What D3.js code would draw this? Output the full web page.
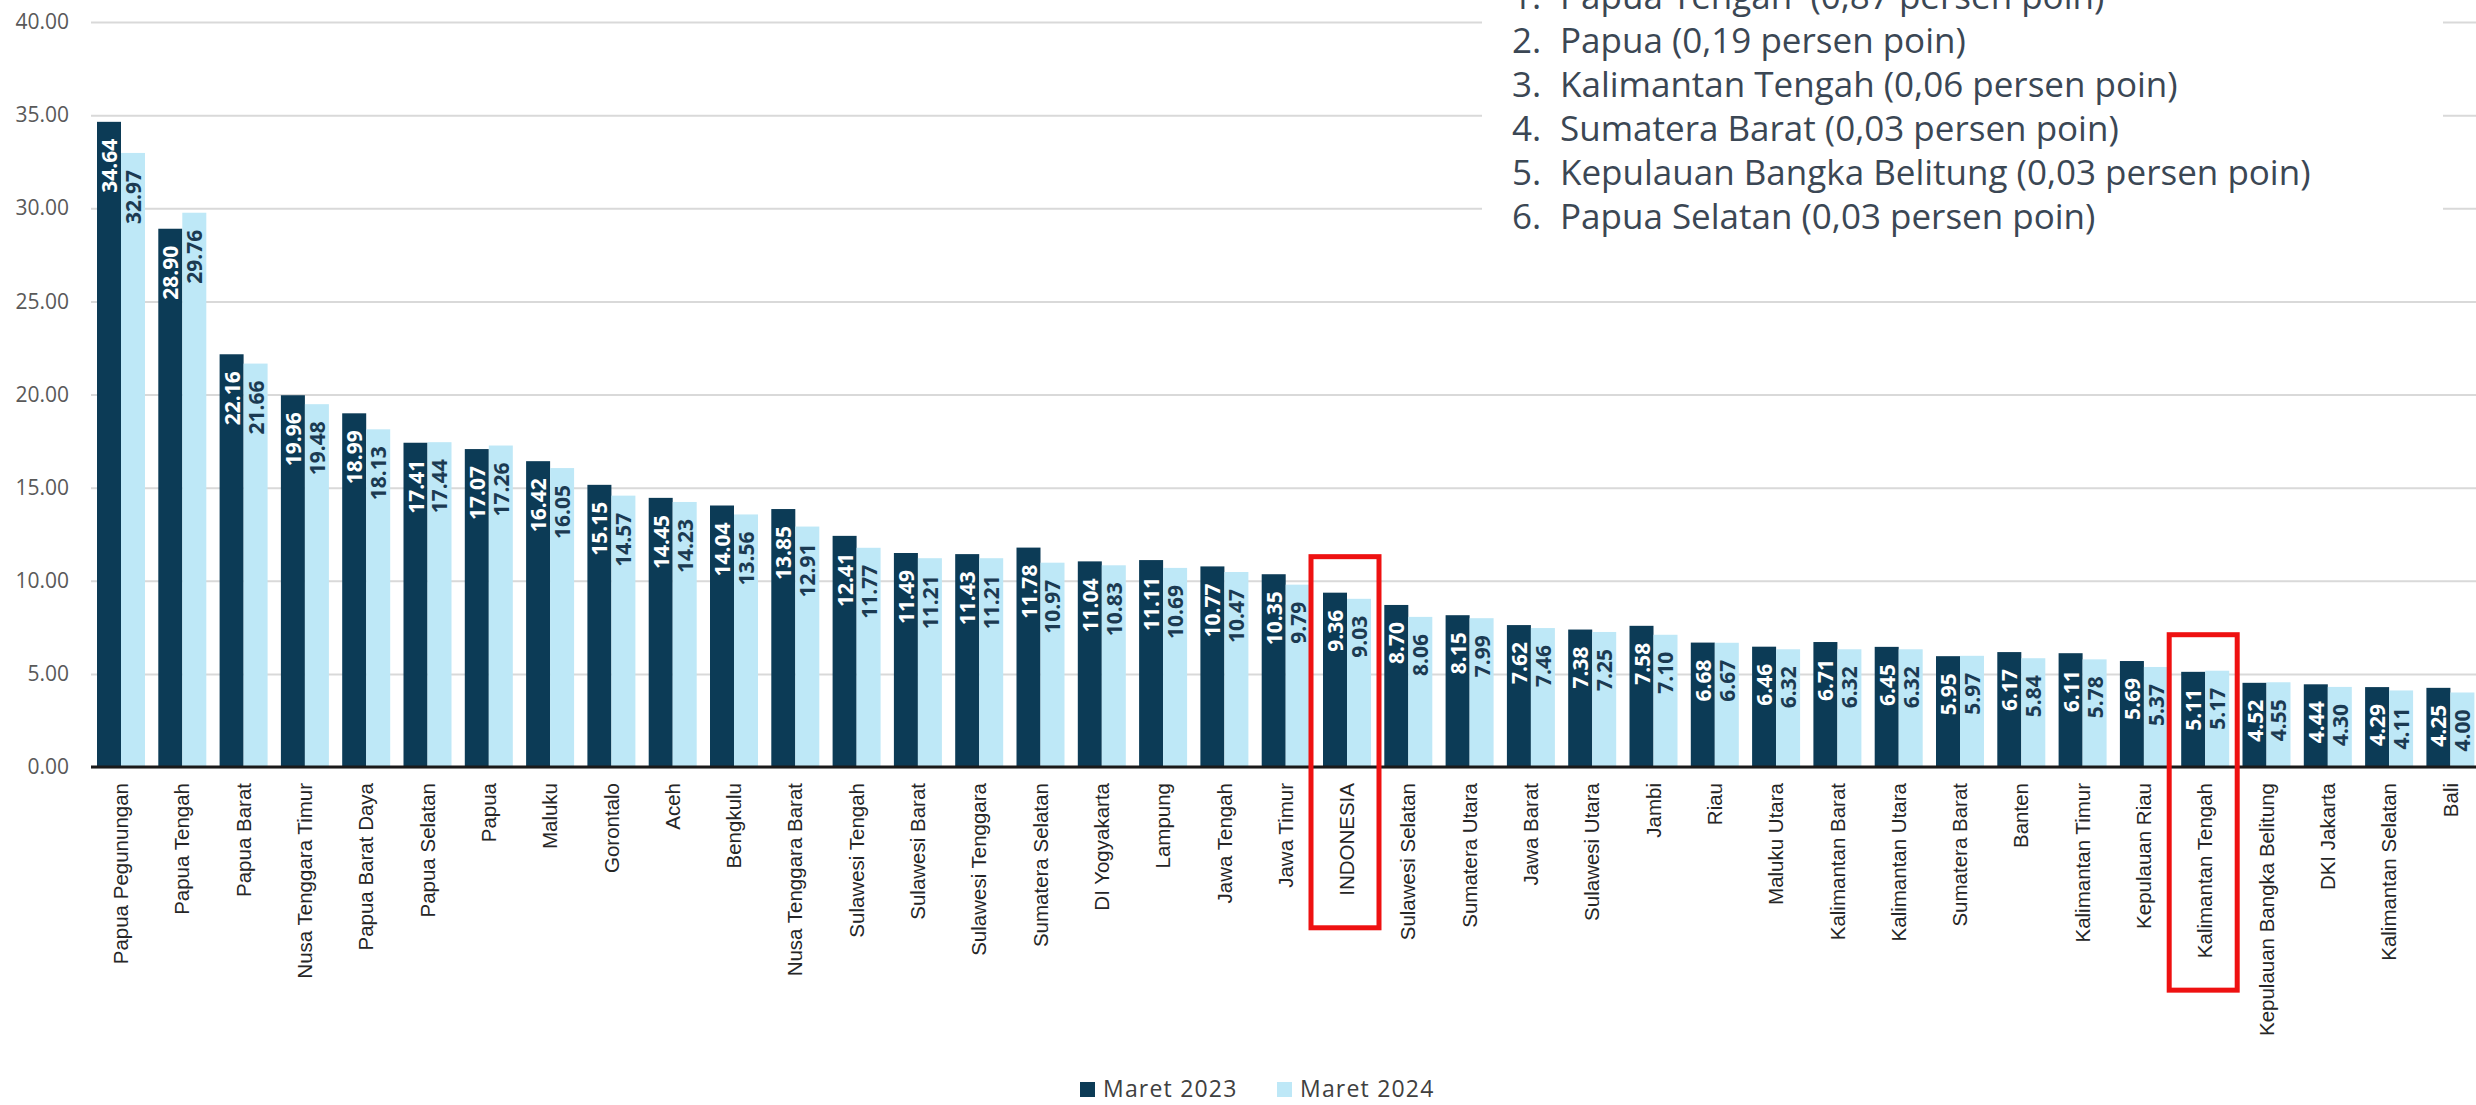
<!DOCTYPE html>
<html>
<head>
<meta charset="utf-8">
<script src="https://cdn.jsdelivr.net/npm/d3@7"></script>
<style>
body { margin:0; background:#ffffff; }
</style>
</head>
<body>
<svg></svg>
<script>
var categories = ["Papua Pegunungan","Papua Tengah","Papua Barat","Nusa Tenggara Timur","Papua Barat Daya",
  "Papua Selatan","Papua","Maluku","Gorontalo","Aceh","Bengkulu","Nusa Tenggara Barat","Sulawesi Tengah",
  "Sulawesi Barat","Sulawesi Tenggara","Sumatera Selatan","DI Yogyakarta","Lampung","Jawa Tengah","Jawa Timur",
  "INDONESIA","Sulawesi Selatan","Sumatera Utara","Jawa Barat","Sulawesi Utara","Jambi","Riau","Maluku Utara",
  "Kalimantan Barat","Kalimantan Utara","Sumatera Barat","Banten","Kalimantan Timur","Kepulauan Riau",
  "Kalimantan Tengah","Kepulauan Bangka Belitung","DKI Jakarta","Kalimantan Selatan","Bali"];
var maret2023 = [34.64,28.90,22.16,19.96,18.99,17.41,17.07,16.42,15.15,14.45,14.04,13.85,12.41,
  11.49,11.43,11.78,11.04,11.11,10.77,10.35,9.36,8.70,8.15,7.62,7.38,7.58,6.68,6.46,
  6.71,6.45,5.95,6.17,6.11,5.69,5.11,4.52,4.44,4.29,4.25];
var maret2024 = [32.97,29.76,21.66,19.48,18.13,17.44,17.26,16.05,14.57,14.23,13.56,12.91,11.77,
  11.21,11.21,10.97,10.83,10.69,10.47,9.79,9.03,8.06,7.99,7.46,7.25,7.10,6.67,6.32,
  6.32,6.32,5.97,5.84,5.78,5.37,5.17,4.55,4.30,4.11,4.00];
var seriesNames = ["Maret 2023","Maret 2024"];
var yTicks = [0,5,10,15,20,25,30,35,40];
var highlighted = ["INDONESIA","Kalimantan Tengah"];
var noteNumbers = ["1.","2.","3.","4.","5.","6."];
var noteTexts = ["Papua Tengah  (0,87 persen poin)","Papua (0,19 persen poin)","Kalimantan Tengah (0,06 persen poin)",
  "Sumatera Barat (0,03 persen poin)","Kepulauan Bangka Belitung (0,03 persen poin)","Papua Selatan (0,03 persen poin)"];

var screen =
{
  width:2476,
  height:1105
};

var svg = d3.select("svg")
            .attr("width",screen.width)
            .attr("height",screen.height);

var plot =
{
  left:91,
  right:2476,
  top:22,
  bottom:767
};

var colors = ["#0c3b56","#bee8f7"];
var labelColors = ["#ffffff","#1b3a52"];

var step = 61.3;
var xScale = d3.scaleBand()
               .domain(categories)
               .range([90.35, 90.35 + categories.length*step])
               .paddingInner(0.217)
               .paddingOuter(0.1085);
var xSub = d3.scaleBand()
             .domain([0,1])
             .range([0,xScale.bandwidth()]);
var yScale = d3.scaleLinear()
               .domain([0,40])
               .range([plot.bottom,plot.top]);

// gridlines + y labels
var yAxis = d3.axisLeft(yScale)
              .tickValues(yTicks)
              .tickSize(-(plot.right-plot.left))
              .tickPadding(22)
              .tickFormat(d3.format(".2f"));

var yG = svg.append("g")
            .attr("transform","translate("+plot.left+",0)")
            .call(yAxis);
yG.select(".domain").remove();
yG.selectAll("line")
  .attr("stroke","#d9d9d9")
  .attr("stroke-width",2);
yG.selectAll("text")
  .attr("fill","#595959")
  .style("font-family","'Open Sans'")
  .style("font-size","21px");

// annotation box covers gridlines
svg.append("rect")
   .attr("x",1482)
   .attr("y",0)
   .attr("width",961)
   .attr("height",258)
   .attr("fill","#ffffff");

var notes = svg.append("g").classed("notes",true);
notes.selectAll("text.num")
     .data(noteNumbers)
     .enter()
     .append("text")
     .classed("num",true)
     .attr("x",1512)
     .attr("y",function(d,i){return 9+i*44;})
     .text(function(d){return d;});
notes.selectAll("text.note")
     .data(noteTexts)
     .enter()
     .append("text")
     .classed("note",true)
     .attr("x",1560)
     .attr("y",function(d,i){return 9+i*44;})
     .style("white-space","pre")
     .text(function(d){return d;});
notes.selectAll("text")
     .attr("fill","#3b4754")
     .style("font-family","'Open Sans'")
     .style("font-size","35px");

// bars
var rows = categories.map(function(c,i)
{
  return {name:c, values:[maret2023[i],maret2024[i]]};
});

var groups = svg.append("g")
                .classed("bars",true)
                .selectAll("g")
                .data(rows)
                .enter()
                .append("g")
                .attr("transform",function(d){return "translate("+xScale(d.name)+",0)";});

groups.selectAll("rect")
      .data(function(d){return d.values;})
      .enter()
      .append("rect")
      .attr("x",function(d,i){return xSub(i);})
      .attr("y",function(d){return yScale(d);})
      .attr("width",xSub.bandwidth())
      .attr("height",function(d){return yScale(0)-yScale(d);})
      .attr("fill",function(d,i){return colors[i];});

groups.selectAll("text")
      .data(function(d){return d.values;})
      .enter()
      .append("text")
      .attr("transform",function(d,i)
      {
        return "translate("+(xSub(i)+xSub.bandwidth()/2)+","+(yScale(d)+17)+") rotate(-90)";
      })
      .attr("text-anchor","end")
      .attr("dominant-baseline","central")
      .attr("fill",function(d,i){return labelColors[i];})
      .style("font-family","'Open Sans'")
      .style("font-weight","bold")
      .style("font-size","21px")
      .text(function(d){return d.toFixed(2);});

// x axis labels
var xAxis = d3.axisBottom(xScale)
              .tickSize(0)
              .tickPadding(0);
var xG = svg.append("g")
            .attr("transform","translate(0,"+plot.bottom+")")
            .call(xAxis);
xG.select(".domain").remove();
xG.selectAll("text")
  .attr("transform","rotate(-90)")
  .attr("x",-16)
  .attr("y",0)
  .attr("dy","0.35em")
  .attr("text-anchor","end")
  .attr("fill","#262626")
  .style("font-family","'Liberation Sans'")
  .style("font-size","20.5px");

svg.append("line")
   .attr("x1",plot.left)
   .attr("x2",plot.right)
   .attr("y1",yScale(0))
   .attr("y2",yScale(0))
   .attr("stroke","#1a1a1a")
   .attr("stroke-width",3);

// red boxes
highlighted.forEach(function(name)
{
  var i = categories.indexOf(name);
  var top = yScale(Math.max(maret2023[i],maret2024[i]))-36;
  var len = 0;
  xG.selectAll(".tick")
    .filter(function(d){return d==name;})
    .select("text")
    .each(function(){len = this.getComputedTextLength();});
  var bottom = plot.bottom+16+len+32;
  svg.append("rect")
     .attr("x",xScale(name)-12)
     .attr("y",top)
     .attr("width",xScale.bandwidth()+20)
     .attr("height",bottom-top)
     .attr("fill","none")
     .attr("stroke","#ee1111")
     .attr("stroke-width",5);
});

// legend
var legend = svg.append("g")
                .classed("legend",true)
                .attr("transform","translate(1080,1082)");
var legendItems = legend.selectAll("g")
                        .data(seriesNames)
                        .enter()
                        .append("g")
                        .attr("transform",function(d,i){return "translate("+(i*197)+",0)";});
legendItems.append("rect")
           .attr("x",0)
           .attr("y",0)
           .attr("width",15)
           .attr("height",15)
           .attr("fill",function(d,i){return colors[i];});
legendItems.append("text")
           .attr("x",23)
           .attr("y",15)
           .attr("fill","#404040")
           .style("font-family","'Open Sans'")
           .style("font-size","23px")
           .style("letter-spacing","1.2px")
           .text(function(d){return d;});
</script>
</body>
</html>
